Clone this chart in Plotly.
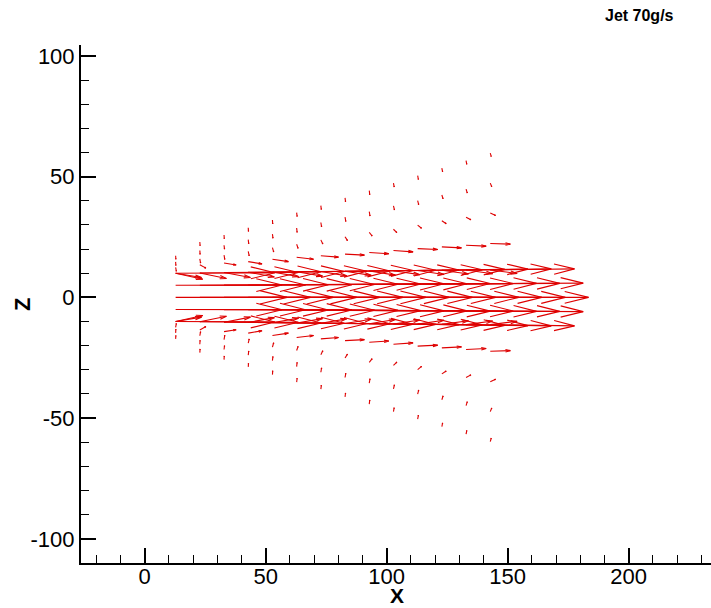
import math
import plotly.graph_objects as go

# grid columns (x) of the velocity field
x_cols = [12.8, 22.8, 32.8, 42.8, 52.8, 62.8, 72.8, 82.8, 92.8, 102.8, 112.8, 122.8, 132.8, 142.8]

# upper-half grid rows (z) per column; lower half is the mirror image
z_row_a = [17.2, 22.9, 25.8, 28.8, 32.0, 35.1, 38.0, 41.2, 44.2, 47.3, 50.4, 53.5, 56.6, 59.7]
z_row_b = [14.7, 19.4, 21.6, 23.9, 26.2, 28.7, 31.0, 33.2, 35.5, 37.9, 40.1, 42.4, 44.8, 47.3]
z_row_c = [12.4, 15.9, 17.5, 19.0, 20.6, 22.0, 23.8, 25.1, 26.9, 28.2, 29.9, 31.7, 33.2, 34.9]
z_row_d = [10.0, 13.5, 14.2, 14.8, 15.8, 16.6, 17.2, 17.9, 18.6, 19.4, 20.2, 20.9, 21.6, 22.3]
z_lip = [10.0, 10.1, 10.3, 10.4, 10.5, 10.6, 10.7, 10.8, 10.9, 11.0, 11.1, 11.2, 11.3, 11.3]
z_mid = [5.0, 5.0, 5.1, 5.1, 5.2, 5.3, 5.3, 5.4, 5.4, 5.5, 5.5, 5.6, 5.6, 5.7]

# velocity components (u along x, w along z) for each upper row
u_a = [0.1, 0.1, 0.1, 0.1, 0.1, 0.2, 0.2, 0.2, 0.2, 0.3, 0.3, 0.3, 0.3, 0.4]
w_a = [-1.4, -1.5, -1.5, -1.5, -1.6, -1.6, -1.6, -1.6, -1.7, -1.6, -1.6, -1.5, -1.5, -1.4]
u_b = [0.1, 0.1, 0.2, 0.2, 0.2, 0.2, 0.3, 0.3, 0.3, 0.4, 0.4, 0.5, 0.5, 0.6]
w_b = [-1.5, -1.6, -1.6, -1.7, -1.7, -1.8, -1.8, -1.8, -1.8, -1.7, -1.7, -1.6, -1.6, -1.5]
u_c = [0.3, 0.3, 0.3, 0.4, 0.5, 0.6, 0.8, 1.0, 1.2, 1.4, 1.6, 1.8, 2.0, 2.2]
w_c = [-1.6, -1.7, -1.8, -1.8, -1.8, -1.7, -1.7, -1.6, -1.5, -1.4, -1.3, -1.2, -1.1, -1.0]
u_d = [10.7, 2.5, 5.0, 5.7, 6.6, 7.0, 7.3, 8.0, 8.1, 8.1, 8.3, 8.1, 8.3, 8.3]
w_d = [-1.8, -1.4, -0.8, -0.95, -1.0, -0.8, -0.55, -0.4, -0.55, -0.55, -0.4, -0.4, -0.4, -0.25]
u_shear = [11.2, 11.0, 10.9, 10.8, 10.8, 10.7, 10.7, 10.8, 10.8, 10.9, 10.9, 11.0, 11.0, 11.1]
w_shear = [-2.5, -2.3, -2.1, -2.0, -1.9, -1.8, -1.8, -1.7, -1.7, -1.6, -1.6, -1.5, -1.5, -1.4]
u_lip = [41.0, 40.7, 40.1, 39.7, 39.0, 38.6, 38.2, 37.5, 37.1, 36.7, 36.0, 35.6, 35.2, 34.8]
w_lip = [0.2, 0.2, 0.3, 0.3, 0.3, 0.3, 0.4, 0.4, 0.4, 0.4, 0.5, 0.5, 0.5, 0.5]
u_mid = [44.0, 43.7, 43.1, 42.8, 42.2, 41.9, 41.3, 40.9, 40.4, 40.0, 39.5, 39.1, 38.7, 38.4]
w_mid = [0.1, 0.1, 0.1, 0.1, 0.1, 0.1, 0.2, 0.2, 0.2, 0.2, 0.2, 0.2, 0.2, 0.2]
u_core = [46.0, 45.7, 45.1, 44.8, 44.3, 43.9, 43.4, 43.0, 42.6, 42.2, 41.8, 41.3, 41.0, 40.6]

# tick labels (plain hyphen minus, as in the original)
x_tick_vals = [0, 50, 100, 150, 200]
x_tick_text = ["0", "50", "100", "150", "200"]
z_tick_vals = [-100, -50, 0, 50, 100]
z_tick_text = ["-100", "-50", "0", "50", "100"]

HEAD_FRAC = 0.25
HEAD_ANGLE = math.radians(14)
RED = "rgb(222,0,0)"
FONT = "Arial, Liberation Sans, sans-serif"

xs, ys = [], []


def add_arrow(x0, z0, u, w):
    L = math.hypot(u, w)
    if L == 0:
        return
    x1, z1 = x0 + u, z0 + w
    dx, dz = u / L, w / L
    h = HEAD_FRAC * L
    barbs = []
    for s in (1, -1):
        ca, sa = math.cos(s * HEAD_ANGLE), math.sin(s * HEAD_ANGLE)
        bx = dx * ca - dz * sa
        bz = dx * sa + dz * ca
        barbs.append((x1 - h * bx, z1 - h * bz))
    xs.extend([x0, x1, None, barbs[0][0], x1, barbs[1][0], None])
    ys.extend([z0, z1, None, barbs[0][1], z1, barbs[1][1], None])


rows = [
    (z_row_a, u_a, w_a),
    (z_row_b, u_b, w_b),
    (z_row_c, u_c, w_c),
    (z_row_d, u_d, w_d),
    (z_lip, u_shear, w_shear),
    (z_lip, u_lip, w_lip),
    (z_mid, u_mid, w_mid),
]

for i, x in enumerate(x_cols):
    for zr, ur, wr in rows:
        add_arrow(x, zr[i], ur[i], wr[i])
        add_arrow(x, -zr[i], ur[i], -wr[i])
    add_arrow(x, 0.0, u_core[i], 0.0)

fig = go.Figure()
fig.add_trace(go.Scatter(x=xs, y=ys, mode="lines", line=dict(color=RED, width=1.1),
                         hoverinfo="skip", showlegend=False))

axis_common = dict(
    showline=True, linecolor="black", linewidth=2, mirror=False,
    ticks="inside", ticklen=15, tickwidth=2, tickcolor="black",
    minor=dict(ticks="inside", ticklen=8, tickwidth=1, tickcolor="black", dtick=10, tick0=0),
    showgrid=False, zeroline=False, automargin=False,
    tickfont=dict(family=FONT, size=22, color="black"),
)

fig.update_layout(
    width=711, height=608,
    margin=dict(l=81, r=0, t=45, b=45),
    plot_bgcolor="white", paper_bgcolor="white",
    xaxis=dict(range=[-26.3, 234.0], tickmode="array", tickvals=x_tick_vals, ticktext=x_tick_text,
               ticklabelstandoff=-7, **axis_common),
    yaxis=dict(range=[-110, 104.5], tickmode="array", tickvals=z_tick_vals, ticktext=z_tick_text,
               **axis_common),
    annotations=[
        dict(text="<b>Jet 70g/s</b>", xref="paper", yref="paper", x=0.887, y=1.056,
             xanchor="center", yanchor="middle", showarrow=False,
             font=dict(family=FONT, size=16, color="black")),
        dict(text="<b>X</b>", xref="paper", yref="paper", x=0.5016, y=-0.0625,
             xanchor="center", yanchor="middle", showarrow=False, borderpad=0,
             font=dict(family=FONT, size=21, color="black")),
        dict(text="<b>Z</b>", xref="paper", yref="paper", x=-0.0937, y=0.5,
             xanchor="center", yanchor="middle", showarrow=False, textangle=-90,
             font=dict(family=FONT, size=22, color="black")),
    ],
)

# drop the page's default 8px body margin so the figure fills the window
fig.write_html("out.html", config={"displayModeBar": False},
               post_script="document.body.style.margin='0px';")
